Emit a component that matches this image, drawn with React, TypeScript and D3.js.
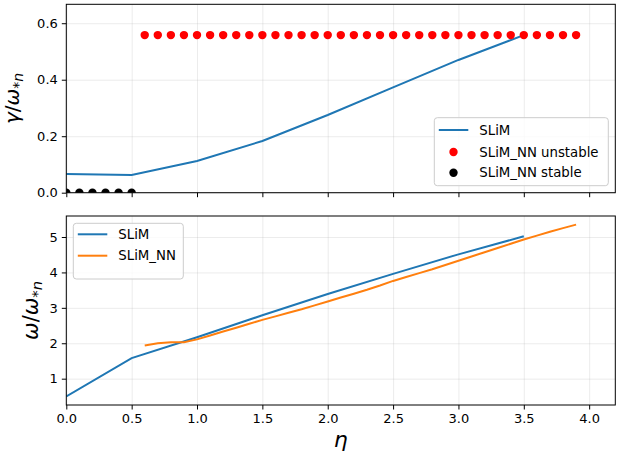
import { useEffect, useRef } from 'react';
import * as d3 from 'd3';

// SLiM (reference) curves
const etaSlim = [0, 0.5, 1.0, 1.5, 2.0, 2.5, 3.0, 3.5];
const gammaSlim = [0.066, 0.063, 0.112, 0.183, 0.275, 0.373, 0.47, 0.558];
const omegaSlim = [0.5, 1.58, 2.17, 2.79, 3.39, 3.96, 4.51, 5.02];

// SLiM_NN stable points (growth rate zero)
const etaStable = [0, 0.1, 0.2, 0.3, 0.4, 0.5];
const gammaStable = [0, 0, 0, 0, 0, 0];

// SLiM_NN unstable points and frequency
const etaNN = [
  0.6, 0.7, 0.8, 0.9, 1.0, 1.1, 1.2, 1.3, 1.4, 1.5, 1.6, 1.7, 1.8, 1.9, 2.0, 2.1, 2.2,
  2.3, 2.4, 2.5, 2.6, 2.7, 2.8, 2.9, 3.0, 3.1, 3.2, 3.3, 3.4, 3.5, 3.6, 3.7, 3.8, 3.9,
];
const gammaNN = [
  0.558, 0.558, 0.558, 0.558, 0.558, 0.558, 0.558, 0.558, 0.558, 0.558, 0.558, 0.558,
  0.558, 0.558, 0.558, 0.558, 0.558, 0.558, 0.558, 0.558, 0.558, 0.558, 0.558, 0.558,
  0.558, 0.558, 0.558, 0.558, 0.558, 0.558, 0.558, 0.558, 0.558, 0.558,
];
const omegaNN = [
  1.94, 2.0, 2.03, 2.03, 2.11, 2.22, 2.33, 2.44, 2.55, 2.66, 2.76, 2.86, 2.96, 3.07, 3.18,
  3.29, 3.4, 3.51, 3.63, 3.76, 3.87, 3.98, 4.09, 4.21, 4.33, 4.45, 4.57, 4.69, 4.81, 4.93,
  5.04, 5.15, 5.25, 5.35,
];

const xTicks = [0, 0.5, 1.0, 1.5, 2.0, 2.5, 3.0, 3.5, 4.0];
const gammaTicks = [0, 0.2, 0.4, 0.6];
const omegaTicks = [1, 2, 3, 4, 5];

const W = 621;
const H = 459;
const FONT = '"DejaVu Sans", sans-serif';
const BLUE = '#1f77b4';
const ORANGE = '#ff7f0e';

type Pt = [number, number];

function addMathLabel(
  g: d3.Selection<SVGSVGElement, unknown, null, undefined>,
  sym: string,
  x: number,
  y: number,
  size: number
) {
  const t = g
    .append('text')
    .attr('transform', `translate(${x},${y}) rotate(-90)`)
    .attr('text-anchor', 'middle')
    .attr('font-family', FONT)
    .attr('font-size', size)
    .attr('fill', '#000');
  t.append('tspan').attr('font-style', 'italic').text(sym);
  t.append('tspan').text('/');
  t.append('tspan').attr('font-style', 'italic').text('ω');
  t.append('tspan').attr('font-size', size * 0.7).attr('dy', size * 0.22).text('*');
  t.append('tspan').attr('font-size', size * 0.7).attr('font-style', 'italic').text('n');
}

export default function App() {
  const svgRef = useRef<SVGSVGElement>(null);

  useEffect(() => {
    if (!svgRef.current) return;
    const svg = d3.select(svgRef.current);
    svg.selectAll('*').remove();

    const left = 66.3;
    const right = 615.3;
    const top1 = { top: 4.3, bottom: 192.7 };
    const bot1 = { top: 216, bottom: 405 };

    const x = d3.scaleLinear().domain([0, 4.2]).range([left, right]);
    const yG = d3.scaleLinear().domain([0, 0.667]).range([top1.bottom, top1.top]);
    const yW = d3.scaleLinear().domain([0.257, 5.593]).range([bot1.bottom, bot1.top]);

    const defs = svg.append('defs');
    defs
      .append('clipPath')
      .attr('id', 'clipTop')
      .append('rect')
      .attr('x', left)
      .attr('y', top1.top)
      .attr('width', right - left)
      .attr('height', top1.bottom - top1.top);
    defs
      .append('clipPath')
      .attr('id', 'clipBot')
      .append('rect')
      .attr('x', left)
      .attr('y', bot1.top)
      .attr('width', right - left)
      .attr('height', bot1.bottom - bot1.top);

    const panel = (
      y: d3.ScaleLinear<number, number>,
      yTicks: number[],
      fmt: (d: number) => string,
      box: { top: number; bottom: number },
      showXLabels: boolean
    ) => {
      const g = svg.append('g');
      // grid
      g.append('g')
        .attr('transform', `translate(0,${box.bottom})`)
        .call(
          d3
            .axisBottom(x)
            .tickValues(xTicks)
            .tickSize(-(box.bottom - box.top))
            .tickFormat(() => '')
        )
        .call((s) => s.select('.domain').remove())
        .selectAll('line')
        .attr('stroke', '#b0b0b0')
        .attr('stroke-opacity', 0.3)
        .attr('stroke-width', 0.8);
      g.append('g')
        .attr('transform', `translate(${left},0)`)
        .call(
          d3
            .axisLeft(y)
            .tickValues(yTicks)
            .tickSize(-(right - left))
            .tickFormat(() => '')
        )
        .call((s) => s.select('.domain').remove())
        .selectAll('line')
        .attr('stroke', '#b0b0b0')
        .attr('stroke-opacity', 0.3)
        .attr('stroke-width', 0.8);

      // axes
      const xa = g
        .append('g')
        .attr('transform', `translate(0,${box.bottom})`)
        .call(
          d3
            .axisBottom(x)
            .tickValues(xTicks)
            .tickSize(4.5)
            .tickPadding(4)
            .tickSizeOuter(0)
            .tickFormat((d) => (showXLabels ? d3.format('.1f')(d as number) : ''))
        );
      xa.selectAll('text').attr('font-size', 13).attr('font-family', FONT).attr('fill', '#000');
      xa.select('.domain').remove();

      const ya = g
        .append('g')
        .attr('transform', `translate(${left},0)`)
        .call(
          d3
            .axisLeft(y)
            .tickValues(yTicks)
            .tickSize(4.5)
            .tickPadding(4)
            .tickSizeOuter(0)
            .tickFormat((d) => fmt(d as number))
        );
      ya.selectAll('text').attr('font-size', 13).attr('font-family', FONT).attr('fill', '#000');
      ya.select('.domain').remove();
      return g;
    };

    const line = (y: d3.ScaleLinear<number, number>) =>
      d3
        .line<Pt>()
        .x((d) => x(d[0]))
        .y((d) => y(d[1]));

    // ---------- top panel ----------
    const gTop = panel(yG, gammaTicks, d3.format('.1f'), top1, false);
    const plotTop = gTop.append('g').attr('clip-path', 'url(#clipTop)');
    plotTop
      .append('path')
      .datum(etaSlim.map((e, i) => [e, gammaSlim[i]] as Pt))
      .attr('fill', 'none')
      .attr('stroke', BLUE)
      .attr('stroke-width', 2)
      .attr('d', line(yG));
    plotTop
      .selectAll('circle.unstable')
      .data(etaNN.map((e, i) => [e, gammaNN[i]] as Pt))
      .enter()
      .append('circle')
      .attr('class', 'unstable')
      .attr('cx', (d) => x(d[0]))
      .attr('cy', (d) => yG(d[1]))
      .attr('r', 4.2)
      .attr('fill', 'red');
    plotTop
      .selectAll('circle.stable')
      .data(etaStable.map((e, i) => [e, gammaStable[i]] as Pt))
      .enter()
      .append('circle')
      .attr('class', 'stable')
      .attr('cx', (d) => x(d[0]))
      .attr('cy', (d) => yG(d[1]))
      .attr('r', 4.2)
      .attr('fill', 'black');

    gTop
      .append('rect')
      .attr('x', left)
      .attr('y', top1.top)
      .attr('width', right - left)
      .attr('height', top1.bottom - top1.top)
      .attr('fill', 'none')
      .attr('stroke', '#000')
      .attr('stroke-width', 1);

    // ---------- bottom panel ----------
    const gBot = panel(yW, omegaTicks, d3.format('d'), bot1, true);
    const plotBot = gBot.append('g').attr('clip-path', 'url(#clipBot)');
    plotBot
      .append('path')
      .datum(etaSlim.map((e, i) => [e, omegaSlim[i]] as Pt))
      .attr('fill', 'none')
      .attr('stroke', BLUE)
      .attr('stroke-width', 2)
      .attr('d', line(yW));
    plotBot
      .append('path')
      .datum(etaNN.map((e, i) => [e, omegaNN[i]] as Pt))
      .attr('fill', 'none')
      .attr('stroke', ORANGE)
      .attr('stroke-width', 2)
      .attr('d', line(yW));

    gBot
      .append('rect')
      .attr('x', left)
      .attr('y', bot1.top)
      .attr('width', right - left)
      .attr('height', bot1.bottom - bot1.top)
      .attr('fill', 'none')
      .attr('stroke', '#000')
      .attr('stroke-width', 1);

    // ---------- legends ----------
    const legend = (
      bx: number,
      by: number,
      bw: number,
      bh: number,
      items: { label: string; kind: 'line' | 'dot'; color: string; y: number }[]
    ) => {
      const lg = svg.append('g');
      lg.append('rect')
        .attr('x', bx)
        .attr('y', by)
        .attr('width', bw)
        .attr('height', bh)
        .attr('rx', 3)
        .attr('fill', 'white')
        .attr('fill-opacity', 0.8)
        .attr('stroke', '#cccccc')
        .attr('stroke-width', 1);
      items.forEach((it) => {
        if (it.kind === 'line') {
          lg.append('line')
            .attr('x1', bx + 4.5)
            .attr('x2', bx + 34)
            .attr('y1', it.y)
            .attr('y2', it.y)
            .attr('stroke', it.color)
            .attr('stroke-width', 2);
        } else {
          lg.append('circle')
            .attr('cx', bx + 19.2)
            .attr('cy', it.y)
            .attr('r', 4.2)
            .attr('fill', it.color);
        }
        lg.append('text')
          .attr('x', bx + 45)
          .attr('y', it.y)
          .attr('dy', '0.36em')
          .attr('font-family', FONT)
          .attr('font-size', 13.3)
          .attr('fill', '#000')
          .text(it.label);
      });
    };

    legend(434.3, 117.7, 174, 68, [
      { label: 'SLiM', kind: 'line', color: BLUE, y: 130 },
      { label: 'SLiM_NN unstable', kind: 'dot', color: 'red', y: 152 },
      { label: 'SLiM_NN stable', kind: 'dot', color: 'black', y: 172.7 },
    ]);
    legend(73.3, 223.3, 110, 55.7, [
      { label: 'SLiM', kind: 'line', color: BLUE, y: 234.3 },
      { label: 'SLiM_NN', kind: 'line', color: ORANGE, y: 255.7 },
    ]);

    // ---------- axis labels ----------
    addMathLabel(svg, 'γ', 18.5, (top1.top + top1.bottom) / 2, 20);
    addMathLabel(svg, 'ω', 37.5, (bot1.top + bot1.bottom) / 2, 21);
    svg
      .append('text')
      .attr('x', (left + right) / 2)
      .attr('y', 447)
      .attr('text-anchor', 'middle')
      .attr('font-family', FONT)
      .attr('font-style', 'italic')
      .attr('font-size', 22)
      .attr('fill', '#000')
      .text('η');
  }, []);

  return (
    <div style={{ position: 'absolute', left: 0, top: 0 }}>
      <svg ref={svgRef} width={W} height={H} viewBox={`0 0 ${W} ${H}`} style={{ display: 'block', background: '#fff' }} />
    </div>
  );
}
